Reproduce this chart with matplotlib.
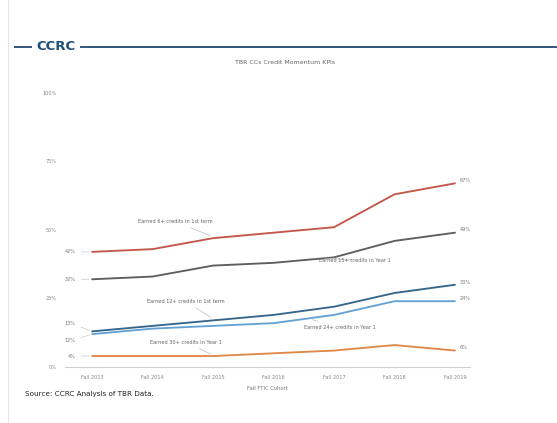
import matplotlib.pyplot as plt
from matplotlib.lines import Line2D

# cohorts on the x axis
cohorts = ['Fall 2013', 'Fall 2014', 'Fall 2015', 'Fall 2016',
           'Fall 2017', 'Fall 2018', 'Fall 2019']

# share of students reaching each momentum milestone (%)
earned_6_term1 = [42, 43, 47, 49, 51, 63, 67]
earned_15_year1 = [32, 33, 37, 38, 40, 46, 49]
earned_12_term1 = [13, 15, 17, 19, 22, 27, 30]
earned_24_year1 = [12, 14, 15, 16, 19, 24, 24]
earned_30_year1 = [4, 4, 4, 5, 6, 8, 6]

series_names = ['Earned 6+ credits in 1st term',
                'Earned 15+ credits in Year 1',
                'Earned 12+ credits in 1st term',
                'Earned 24+ credits in Year 1',
                'Earned 30+ credits in Year 1']
series_values = [earned_6_term1, earned_15_year1, earned_12_term1,
                 earned_24_year1, earned_30_year1]
colors = ['#c4574b', '#5e5e5e', '#35678c', '#65a2d4', '#e2874a']

# where each series name sits (data coords) and the point it points at
name_pos = [(1.37, 53), (4.35, 39), (1.55, 24), (4.1, 14.5), (1.55, 9)]
name_target = [(2.0, 47.5), (3.8, 39.8), (2.0, 17.5), (3.6, 17.5), (2.0, 4.3)]
# vertical nudges for the start labels so the close blue ones don't overlap
start_nudge = [0, 0, 3, -2.5, 0]

fig = plt.figure(figsize=(5.57, 4.23), dpi=100)
ax = fig.add_axes([0.117, 0.1324, 0.727, 0.648])

x = list(range(len(cohorts)))
for name, vals, c, npos, ntgt, nudge in zip(series_names, series_values, colors,
                                            name_pos, name_target, start_nudge):
    ax.plot(x, vals, color=c, lw=1.35, solid_capstyle='round', zorder=3)
    ax.annotate(f'{vals[0]}%', xy=(x[0], vals[0]), xytext=(-0.27, vals[0] + nudge),
                fontsize=3.6, color='#777777', ha='right', va='center',
                arrowprops=dict(arrowstyle='-', color='#cccccc', lw=0.5))
    ax.annotate(f'{vals[-1]}%', xy=(x[-1], vals[-1]), xytext=(x[-1] + 0.08, vals[-1] + 1),
                fontsize=3.6, color='#777777', ha='left', va='center')
    ax.annotate(name, xy=ntgt, xytext=npos, fontsize=3.6, color='#666666',
                ha='center', va='center',
                arrowprops=dict(arrowstyle='-', color='#bbbbbb', lw=0.5))

ax.set_xlim(-0.446, 6.25)
ax.set_ylim(0, 100)
ax.set_xticks(x)
ax.set_xticklabels(cohorts)
ax.set_yticks([0, 25, 50, 75, 100])
ax.set_yticklabels(['0%', '25%', '50%', '75%', '100%'])
ax.tick_params(labelsize=3.6, colors='#888888', length=0, pad=6)
ax.set_xlabel('Fall FTIC Cohort', fontsize=3.8, color='#777777', labelpad=4)
for side in ['top', 'right', 'left']:
    ax.spines[side].set_visible(False)
ax.spines['bottom'].set_color('#d0d0d0')
ax.spines['bottom'].set_linewidth(0.8)

fig.text(0.512, 0.853, 'TBR CCs Credit Momentum KPIs', fontsize=4.5,
         color='#666666', ha='center', va='center')

# header band
fig.add_artist(Line2D([0.027, 0.055], [0.889, 0.889], color='#34557a', lw=1.4))
fig.add_artist(Line2D([0.145, 1.0], [0.889, 0.889], color='#34557a', lw=1.4))
fig.text(0.1, 0.889, 'CCRC', fontsize=9.5, fontweight='bold', color='#1f4e79',
         ha='center', va='center')
fig.add_artist(Line2D([0.014, 0.014], [0.0, 1.0], color='#e6e6e6', lw=0.8))

fig.text(0.045, 0.068, 'Source: CCRC Analysis of TBR Data.', fontsize=5.2,
         color='#222222', ha='left', va='center')

fig.savefig('out.png', dpi=100, facecolor='white')
